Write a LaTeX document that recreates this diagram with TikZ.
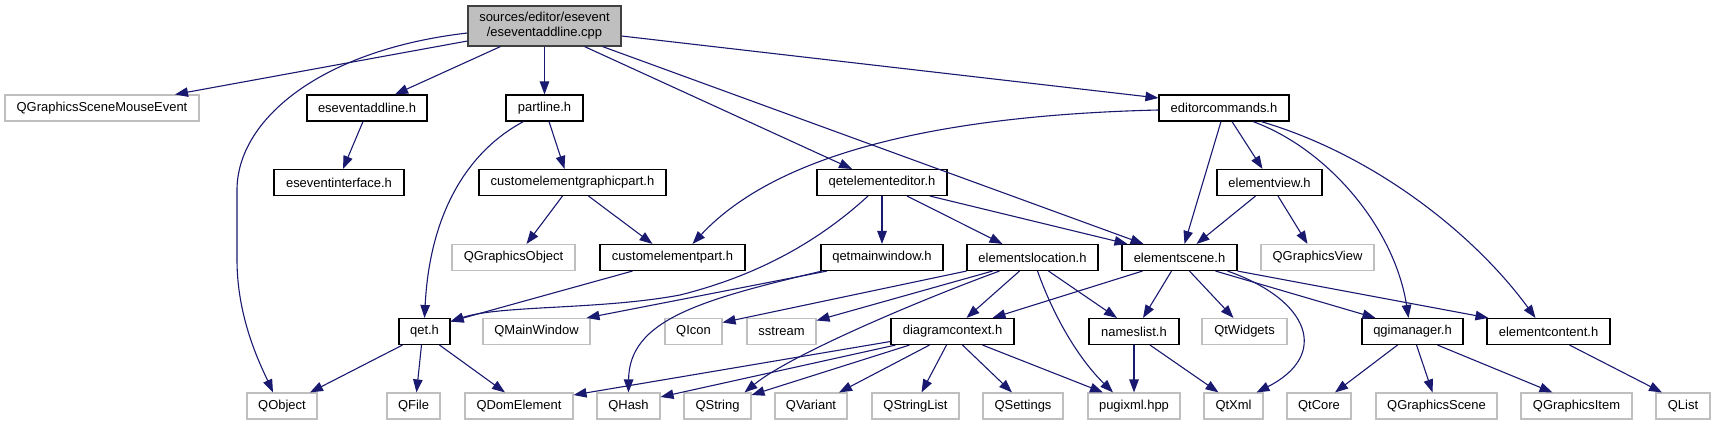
\documentclass[tikz,border=0pt]{standalone}
\usepackage{fontspec}
\setmainfont{Liberation Sans}
\usepackage{xcolor}
\usetikzlibrary{arrows.meta}
\definecolor{azul}{HTML}{191970}
\definecolor{grisborde}{HTML}{BFBFBF}
\definecolor{grisraiz}{HTML}{404040}

\begin{document}
\begin{tikzpicture}[x=1pt, y=-1pt, font=\fontsize{12.96}{15}\selectfont,
  cajadoc/.style={draw=black, line width=1.1pt, minimum height=26pt, inner sep=0pt},
  cajaext/.style={draw=grisborde, line width=1.1pt, minimum height=26pt, inner sep=0pt},
  cajaraiz/.style={draw=grisraiz, fill=grisborde, line width=1.1pt, minimum height=40pt, inner sep=0pt, align=center},
  enlace/.style={draw=azul, line width=1.1pt, -{Triangle[length=13pt,width=9.5pt]}}]
\useasboundingbox (0,0) rectangle (1715,425);
% Nodo raiz
\node[cajaraiz, minimum width=153pt] (raiz) at (544.5,26) {sources/editor/esevent\\/eseventaddline.cpp};

% Fila 1
\node[cajaext, minimum width=194pt] (qgsme) at (102,108) {QGraphicsSceneMouseEvent};
\node[cajadoc, minimum width=120pt] (esaddh) at (367,108) {eseventaddline.h};
\node[cajadoc, minimum width=77pt] (partline) at (544.5,108) {partline.h};
\node[cajadoc, minimum width=130pt] (edcmd) at (1224,108) {editorcommands.h};

% Fila 2
\node[cajadoc, minimum width=130pt] (esint) at (339,182.5) {eseventinterface.h};
\node[cajadoc, minimum width=187pt] (cegp) at (572.5,182.5) {customelementgraphicpart.h};
\node[cajadoc, minimum width=130pt] (qee) at (882,182.5) {qetelementeditor.h};
\node[cajadoc, minimum width=105pt] (eview) at (1269.5,182.5) {elementview.h};

% Fila 3
\node[cajaext, minimum width=123pt] (qgobj) at (513.5,257.5) {QGraphicsObject};
\node[cajadoc, minimum width=145pt] (cep) at (672.5,257.5) {customelementpart.h};
\node[cajadoc, minimum width=122pt] (qmw) at (882,257.5) {qetmainwindow.h};
\node[cajadoc, minimum width=131pt] (eloc) at (1032.5,257.5) {elementslocation.h};
\node[cajadoc, minimum width=115pt] (escene) at (1179.5,257.5) {elementscene.h};
\node[cajaext, minimum width=113pt] (qgview) at (1317.5,257.5) {QGraphicsView};

% Fila 4
\node[cajadoc, minimum width=51pt] (qet) at (424.5,331.5) {qet.h};
\node[cajaext, minimum width=107pt] (qmainwin) at (536.5,331.5) {QMainWindow};
\node[cajaext, minimum width=57pt] (qicon) at (693.5,331.5) {QIcon};
\node[cajaext, minimum width=69pt] (sstream) at (781.5,331.5) {sstream};
\node[cajadoc, minimum width=123pt] (dctx) at (952.5,331.5) {diagramcontext.h};
\node[cajadoc, minimum width=90pt] (nlist) at (1134,331.5) {nameslist.h};
\node[cajaext, minimum width=85pt] (qtwidgets) at (1244.5,331.5) {QtWidgets};
\node[cajadoc, minimum width=101pt] (qgim) at (1412.5,331.5) {qgimanager.h};
\node[cajadoc, minimum width=123pt] (econt) at (1548.5,331.5) {elementcontent.h};

% Fila 5
\node[cajaext, minimum width=70pt] (qobject) at (282,406) {QObject};
\node[cajaext, minimum width=53pt] (qfile) at (413.5,406) {QFile};
\node[cajaext, minimum width=108pt] (qdom) at (519,406) {QDomElement};
\node[cajaext, minimum width=63pt] (qhash) at (628.5,406) {QHash};
\node[cajaext, minimum width=67pt] (qstring) at (717.5,406) {QString};
\node[cajaext, minimum width=72pt] (qvariant) at (811,406) {QVariant};
\node[cajaext, minimum width=87pt] (qslist) at (915.5,406) {QStringList};
\node[cajaext, minimum width=80pt] (qsettings) at (1023,406) {QSettings};
\node[cajaext, minimum width=92pt] (pugi) at (1134,406) {pugixml.hpp};
\node[cajaext, minimum width=59pt] (qtxml) at (1233.5,406) {QtXml};
\node[cajaext, minimum width=64pt] (qtcore) at (1319,406) {QtCore};
\node[cajaext, minimum width=121pt] (qgscene) at (1436.5,406) {QGraphicsScene};
\node[cajaext, minimum width=111pt] (qgitem) at (1576.5,406) {QGraphicsItem};
\node[cajaext, minimum width=54pt] (qlist) at (1683,406) {QList};

% Enlaces desde la raiz
\draw[enlace] ([yshift=-15pt]raiz.west) -- ([xshift=73pt]qgsme.north);
\draw[enlace] ([yshift=-7pt]raiz.west) .. controls (320,50) and (237,120) .. (237,190)
  -- (237,260) .. controls (237,320) and (262,368) .. ([xshift=-9pt]qobject.north);
\draw[enlace] ([xshift=-44pt]raiz.south) -- ([xshift=28pt]esaddh.north);
\draw[enlace] (raiz.south) -- (partline.north);
\draw[enlace] ([xshift=40pt]raiz.south) -- ([xshift=-30pt]qee.north);
\draw[enlace] ([xshift=58pt]raiz.south) -- ([xshift=-36pt]escene.north);
\draw[enlace] ([yshift=-10pt]raiz.east) -- ([yshift=10pt]edcmd.west);

% Fila 1
\draw[enlace] ([xshift=-4pt]esaddh.south) -- ([xshift=4pt]esint.north);
\draw[enlace] ([xshift=-21pt]partline.south) .. controls (470,150) and (430,210) .. (qet.north);
\draw[enlace] ([xshift=4.5pt]partline.south) -- ([xshift=-8pt]cegp.north);
\draw[enlace] ([yshift=-2pt]edcmd.west) .. controls (950,115) and (780,150) .. ([xshift=20pt]cep.north);
\draw[enlace] ([xshift=-3pt]edcmd.south) -- ([xshift=5pt]escene.north);
\draw[enlace] ([xshift=8pt]edcmd.south) -- ([xshift=-7pt]eview.north);
\draw[enlace] ([xshift=29pt]edcmd.south) .. controls (1330,150) and (1395,230) .. ([xshift=-4pt]qgim.north);
\draw[enlace] ([xshift=37pt]edcmd.south) .. controls (1375,155) and (1475,235) .. ([xshift=-13pt]econt.north);

% Fila 2
\draw[enlace] ([xshift=-10pt]cegp.south) -- ([xshift=13pt]qgobj.north);
\draw[enlace] ([xshift=16pt]cegp.south) -- ([xshift=-20pt]cep.north);
\draw[enlace] ([xshift=-14pt]qee.south) .. controls (820,240) and (760,275) .. (680,295)
  .. controls (600,310) and (500,305) .. ([yshift=10pt]qet.east);
\draw[enlace] (qee.south) -- (qmw.north);
\draw[enlace] ([xshift=25pt]qee.south) -- ([xshift=-30pt]eloc.north);
\draw[enlace] ([xshift=48pt]qee.south) -- ([xshift=-52pt]escene.north);
\draw[enlace] ([xshift=-14pt]eview.south) -- ([xshift=17pt]escene.north);
\draw[enlace] ([xshift=8.5pt]eview.south) -- ([xshift=-10pt]qgview.north);

% Fila 3
\draw[enlace] ([xshift=-40pt]cep.south) -- ([yshift=10pt]qet.east);
\draw[enlace] ([xshift=-55pt]qmw.south) -- ([xshift=50pt]qmainwin.north);
\draw[enlace] ([xshift=-60pt]qmw.south) .. controls (700,300) and (629,320) .. (qhash.north);
\draw[enlace] (eloc.south west) -- ([yshift=9pt]qicon.east);
\draw[enlace] ([xshift=-40pt]eloc.south) -- ([yshift=11pt]sstream.east);
\draw[enlace] ([xshift=-33pt]eloc.south) .. controls (920,300) and (790,355) .. ([xshift=27pt]qstring.north);
\draw[enlace] ([xshift=-13pt]eloc.south) -- ([xshift=14pt]dctx.north);
\draw[enlace] ([xshift=5pt]eloc.south) .. controls (1055,320) and (1080,360) .. ([xshift=-21pt]pugi.north);
\draw[enlace] ([xshift=16pt]eloc.south) -- ([xshift=-17pt]nlist.north);
\draw[enlace] ([xshift=-37pt]escene.south) -- ([xshift=40pt]dctx.north);
\draw[enlace] ([xshift=-8pt]escene.south) -- ([xshift=9pt]nlist.north);
\draw[enlace] ([xshift=10pt]escene.south) -- ([xshift=-11pt]qtwidgets.north);
\draw[enlace] ([xshift=48pt]escene.south) .. controls (1310,300) and (1330,355) .. ([xshift=23pt]qtxml.north);
\draw[enlace] ([xshift=36pt]escene.south) -- ([xshift=-37pt]qgim.north);
\draw[enlace] (escene.south east) -- ([xshift=2pt]econt.north west);

% Fila 4
\draw[enlace] ([xshift=-22pt]qet.south) -- ([xshift=28pt]qobject.north);
\draw[enlace] ([xshift=-3pt]qet.south) -- ([xshift=3pt]qfile.north);
\draw[enlace] ([xshift=15pt]qet.south) -- ([xshift=-14pt]qdom.north);
\draw[enlace] ([yshift=-10pt]dctx.west) -- ([yshift=11pt]qdom.east);
\draw[enlace] ([xshift=-57pt]dctx.south) -- ([yshift=9pt]qhash.east);
\draw[enlace] ([xshift=-43pt]dctx.south) -- ([yshift=11pt]qstring.east);
\draw[enlace] ([xshift=-23pt]dctx.south) -- ([xshift=28pt]qvariant.north);
\draw[enlace] ([xshift=-6pt]dctx.south) -- ([xshift=6pt]qslist.north);
\draw[enlace] ([xshift=10pt]dctx.south) -- ([xshift=-11pt]qsettings.north);
\draw[enlace] ([xshift=30pt]dctx.south) -- ([xshift=-31pt]pugi.north);
\draw[enlace] (nlist.south) -- (pugi.north);
\draw[enlace] ([xshift=16pt]nlist.south) -- ([xshift=-15pt]qtxml.north);
\draw[enlace] ([xshift=-15pt]qgim.south) -- ([xshift=16pt]qtcore.north);
\draw[enlace] ([xshift=4pt]qgim.south) -- ([xshift=-4pt]qgscene.north);
\draw[enlace] ([xshift=25pt]qgim.south) -- ([xshift=-24pt]qgitem.north);
\draw[enlace] ([xshift=21pt]econt.south) -- ([xshift=-21pt]qlist.north);

\end{tikzpicture}
\end{document}
